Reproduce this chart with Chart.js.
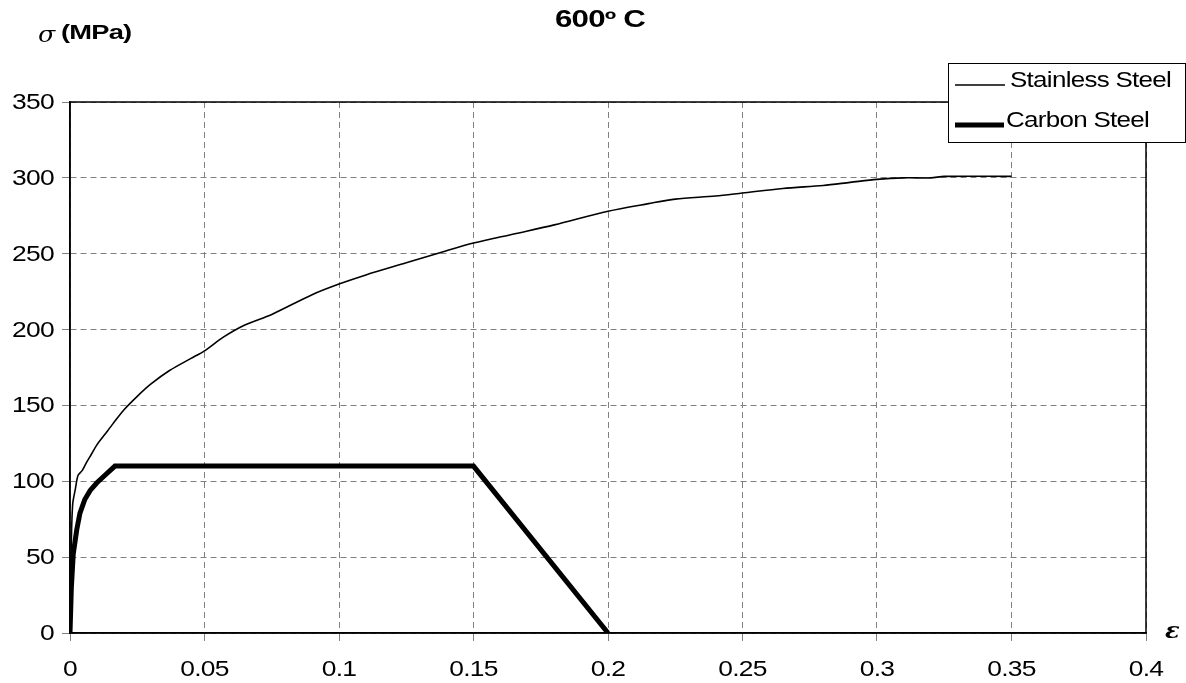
<!DOCTYPE html>
<html>
<head>
<meta charset="utf-8">
<script src="https://cdn.jsdelivr.net/npm/chart.js@4/dist/chart.umd.min.js"></script>
<style>
  html, body { margin: 0; padding: 0; background: #fff; }
  #wrap { width: 1186px; height: 683px; }
</style>
</head>
<body>
<div id="wrap"><canvas id="stressChart" width="1186" height="683"></canvas></div>
<script>
// stress-strain curves at 600 C
const chartTitle = '600º C';
const seriesNames = ['Stainless Steel', 'Carbon Steel'];

const stainlessStrain = [0, 0.0005, 0.001, 0.002, 0.003, 0.0045, 0.006, 0.008, 0.01, 0.013, 0.016, 0.02, 0.025, 0.03, 0.037, 0.045, 0.05, 0.057, 0.065, 0.075, 0.09, 0.1, 0.11, 0.125, 0.14, 0.15, 0.165, 0.18, 0.2, 0.215, 0.225, 0.24, 0.25, 0.265, 0.28, 0.29, 0.3, 0.31, 0.32, 0.325, 0.35];
const stainlessStress = [0, 60, 85, 95, 104, 107, 112, 118, 124, 131, 138, 147, 156, 164, 173, 181, 186, 195, 203, 210, 223, 230, 236, 244, 252, 257, 263, 269, 278, 283, 286, 288, 290, 293, 295, 297, 299, 300, 300, 301, 301];

const carbonStrain = [0, 0.0005, 0.0012, 0.0025, 0.0037, 0.0055, 0.0075, 0.01, 0.013, 0.0167, 0.15, 0.2];
const carbonStress = [0, 30, 52, 68, 79, 88, 94, 99, 104, 110, 110, 0];

const xMax = 0.4, xStep = 0.05;
const yMax = 350, yStep = 50;

const FONT = '"Liberation Sans", Arial, sans-serif';
const STRETCH = 1.2; // text in the picture is drawn wide and tight

function toPoints(xs, ys) {
    return xs.map((x, i) => ({ x: x, y: ys[i] }));
}

function wideText(ctx, text, x, y, align, sx) {
    ctx.save();
    ctx.translate(x, y);
    ctx.scale(sx, 1);
    ctx.textAlign = align;
    ctx.fillText(text, 0, 0);
    ctx.restore();
}

// frame, tick labels, titles and legend box
const decorPlugin = {
    id: 'decor',
    afterDraw(chart) {
        const ctx = chart.ctx;
        const a = chart.chartArea;
        ctx.save();
        ctx.strokeStyle = '#000';
        ctx.lineWidth = 1.5;
        ctx.setLineDash([]);
        ctx.strokeRect(a.left, a.top, a.right - a.left, a.bottom - a.top);

        ctx.fillStyle = '#000';
        ctx.textBaseline = 'middle';
        ctx.letterSpacing = '-0.6px';

        // tick labels
        ctx.font = '22px ' + FONT;
        chart.scales.y.ticks.forEach(t => {
            wideText(ctx, String(t.value), 54, chart.scales.y.getPixelForValue(t.value) + 1, 'right', STRETCH);
        });
        chart.scales.x.ticks.forEach(t => {
            const label = String(Math.round(t.value * 100) / 100);
            wideText(ctx, label, chart.scales.x.getPixelForValue(t.value), 670, 'center', STRETCH);
        });

        // title
        ctx.font = 'bold 23px ' + FONT;
        wideText(ctx, chartTitle, 600, 21, 'center', 1.36);

        // y axis label
        ctx.font = 'italic 22px "DejaVu Serif", serif';
        wideText(ctx, 'σ', 38, 36, 'left', 1.15);
        ctx.font = 'bold 21px ' + FONT;
        wideText(ctx, '(MPa)', 61, 33, 'left', 1.3);

        // x axis label
        ctx.font = 'bold italic 22px "DejaVu Serif", serif';
        wideText(ctx, 'ε', 1165, 632, 'left', 1.1);

        // legend
        const lx = 948, ly = 63, lw = 238, lh = 80;
        ctx.fillStyle = '#fff';
        ctx.fillRect(lx, ly, lw, lh);
        ctx.strokeStyle = '#000';
        ctx.lineWidth = 1;
        ctx.strokeRect(lx + 0.5, ly + 0.5, lw - 1, lh - 1);
        const rows = [{ y: 85, x0: 955, x1: 1005, tx: 1010 }, { y: 125, x0: 955, x1: 1004, tx: 1006 }];
        chart.data.datasets.forEach((d, i) => {
            const r = rows[i];
            ctx.strokeStyle = d.borderColor;
            ctx.lineWidth = d.borderWidth;
            ctx.beginPath();
            ctx.moveTo(r.x0, r.y);
            ctx.lineTo(r.x1, r.y);
            ctx.stroke();
            ctx.fillStyle = '#000';
            ctx.font = '22px ' + FONT;
            wideText(ctx, d.label, r.tx, r.y - 4, 'left', 1.18);
        });
        ctx.restore();
    }
};

const ctx = document.getElementById('stressChart').getContext('2d');
const chart = new Chart(ctx, {
    type: 'scatter',
    data: {
        datasets: [{
            label: seriesNames[0],
            data: toPoints(stainlessStrain, stainlessStress),
            borderColor: '#000',
            borderWidth: 1.6,
            showLine: true,
            pointRadius: 0,
            tension: 0.3,
            fill: false
        }, {
            label: seriesNames[1],
            data: toPoints(carbonStrain, carbonStress),
            borderColor: '#000',
            borderWidth: 5,
            showLine: true,
            pointRadius: 0,
            tension: 0,
            fill: false
        }]
    },
    options: {
        responsive: false,
        animation: false,
        layout: { padding: { top: 102, right: 40, left: 0, bottom: 0 } },
        plugins: {
            legend: { display: false },
            title: { display: false },
            tooltip: { enabled: false }
        },
        scales: {
            x: {
                type: 'linear',
                min: 0,
                max: xMax,
                afterFit: s => { s.height = 50; },
                ticks: { stepSize: xStep, display: false },
                grid: { color: '#808080', lineWidth: 1, tickLength: 8, tickBorderDash: [] },
                border: { display: true, color: '#000', width: 1.5, dash: [6, 4] }
            },
            y: {
                min: 0,
                max: yMax,
                afterFit: s => { s.width = 70; },
                ticks: { stepSize: yStep, display: false },
                grid: { color: '#808080', lineWidth: 1, tickLength: 8, tickBorderDash: [] },
                border: { display: true, color: '#000', width: 1.5, dash: [6, 4] }
            }
        }
    },
    plugins: [decorPlugin]
});
</script>
</body>
</html>
